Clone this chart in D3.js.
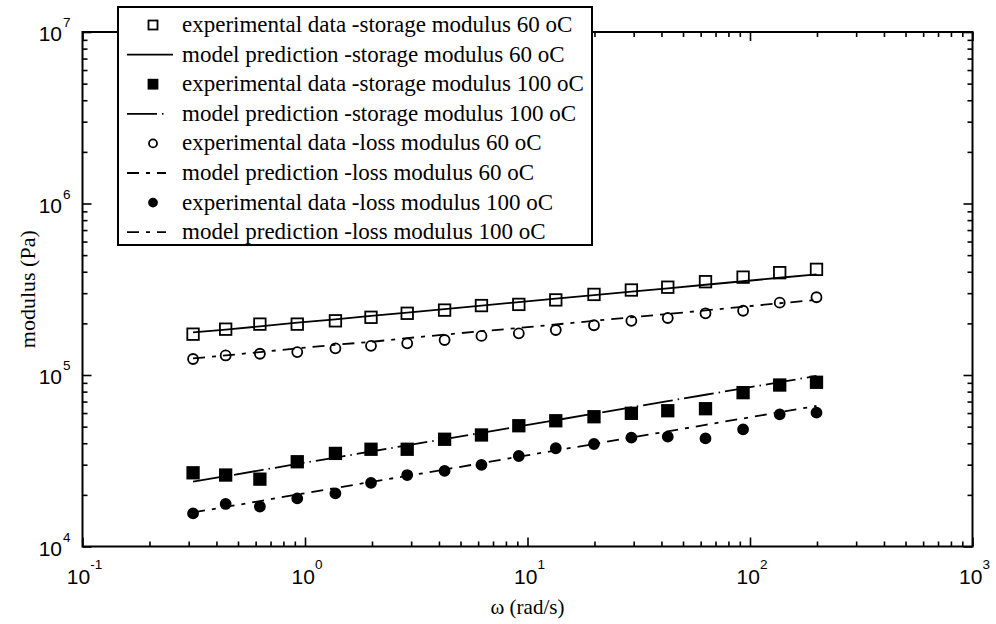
<!DOCTYPE html>
<html>
<head>
<meta charset="utf-8">
<script src="https://cdn.jsdelivr.net/npm/d3@7"></script>
<style>
  html, body { margin: 0; padding: 0; background: #fff; }
  svg { display: block; }
</style>
</head>
<body>
<svg id="chart" width="996" height="624"></svg>
<script>
// ---------------- data ----------------
const omega = [0.314, 0.44, 0.627, 0.923, 1.37, 1.98, 2.88, 4.24, 6.21, 9.14, 13.4, 19.9, 29.3, 42.7, 63.1, 93.1, 136, 199];

const expStorage60 = [1.73e5, 1.85e5, 1.98e5, 1.98e5, 2.07e5, 2.17e5, 2.29e5, 2.39e5, 2.54e5, 2.58e5, 2.74e5, 2.95e5, 3.13e5, 3.25e5, 3.50e5, 3.72e5, 3.95e5, 4.13e5];
const modelStorage60 = [1.77e5, 1.84e5, 1.92e5, 2.02e5, 2.11e5, 2.21e5, 2.31e5, 2.42e5, 2.54e5, 2.66e5, 2.79e5, 2.92e5, 3.06e5, 3.20e5, 3.36e5, 3.52e5, 3.69e5, 3.86e5];

const expStorage100 = [2.69e4, 2.61e4, 2.47e4, 3.12e4, 3.49e4, 3.69e4, 3.69e4, 4.22e4, 4.47e4, 5.06e4, 5.41e4, 5.71e4, 5.98e4, 6.19e4, 6.36e4, 7.89e4, 8.74e4, 9.07e4];
const modelStorage100 = [2.39e4, 2.57e4, 2.78e4, 3.03e4, 3.30e4, 3.58e4, 3.89e4, 4.23e4, 4.60e4, 5.01e4, 5.45e4, 5.95e4, 6.48e4, 7.04e4, 7.67e4, 8.35e4, 9.08e4, 9.87e4];

const expLoss60 = [1.24e5, 1.30e5, 1.33e5, 1.36e5, 1.43e5, 1.48e5, 1.53e5, 1.60e5, 1.69e5, 1.75e5, 1.83e5, 1.95e5, 2.07e5, 2.15e5, 2.29e5, 2.37e5, 2.64e5, 2.84e5];
const modelLoss60 = [1.25e5, 1.30e5, 1.36e5, 1.43e5, 1.50e5, 1.56e5, 1.64e5, 1.72e5, 1.80e5, 1.88e5, 1.97e5, 2.07e5, 2.17e5, 2.27e5, 2.38e5, 2.50e5, 2.62e5, 2.74e5];

const expLoss100 = [1.56e4, 1.77e4, 1.71e4, 1.91e4, 2.04e4, 2.35e4, 2.61e4, 2.76e4, 2.99e4, 3.37e4, 3.74e4, 3.96e4, 4.31e4, 4.37e4, 4.27e4, 4.82e4, 5.90e4, 6.03e4];
const modelLoss100 = [1.58e4, 1.70e4, 1.84e4, 2.01e4, 2.19e4, 2.38e4, 2.58e4, 2.81e4, 3.06e4, 3.34e4, 3.63e4, 3.96e4, 4.32e4, 4.69e4, 5.12e4, 5.58e4, 6.07e4, 6.60e4];

const xTickExps = [-1, 0, 1, 2, 3];
const yTickExps = [4, 5, 6, 7];

const legendLabels = [
  "experimental data -storage modulus 60 oC",
  "model prediction -storage modulus 60 oC",
  "experimental data -storage modulus 100 oC",
  "model prediction -storage modulus 100 oC",
  "experimental data -loss modulus 60 oC",
  "model prediction -loss modulus 60 oC",
  "experimental data -loss modulus 100 oC",
  "model prediction -loss modulus 100 oC"
];
const xTitle = "ω (rad/s)";
const yTitle = "modulus (Pa)";

// ---------------- layout ----------------
const L = 82.5, R = 972.5, T = 32, B = 546.5;
const svg = d3.select("#chart");
const x = d3.scaleLog().domain([0.1, 1000]).range([L, R]);
const y = d3.scaleLog().domain([1e4, 1e7]).range([B, T]);

const SANS = "'Liberation Sans', Arial, sans-serif";
const SERIF = "'Liberation Serif', 'Times New Roman', serif";

// minor tick values
function minors(lo, hi) {
  const out = [];
  for (let e = lo; e < hi; e++) for (let m = 2; m <= 9; m++) out.push(m * Math.pow(10, e));
  return out;
}
const xMajor = xTickExps.map(e => Math.pow(10, e));
const yMajor = yTickExps.map(e => Math.pow(10, e));
const xMinor = minors(-1, 3);
const yMinor = minors(4, 7);

function styleAxis(g) {
  g.select(".domain").remove();
  g.selectAll(".tick text").remove();
  g.selectAll(".tick line").attr("stroke", "#000").attr("stroke-width", 1.6);
}
const MAJ = 9, MIN = 5;
// bottom
svg.append("g").attr("transform", `translate(0,${B})`).call(d3.axisBottom(x).tickValues(xMajor).tickSize(-MAJ)).call(styleAxis);
svg.append("g").attr("transform", `translate(0,${B})`).call(d3.axisBottom(x).tickValues(xMinor).tickSize(-MIN)).call(styleAxis);
// top
svg.append("g").attr("transform", `translate(0,${T})`).call(d3.axisTop(x).tickValues(xMajor).tickSize(-MAJ)).call(styleAxis);
svg.append("g").attr("transform", `translate(0,${T})`).call(d3.axisTop(x).tickValues(xMinor).tickSize(-MIN)).call(styleAxis);
// left
svg.append("g").attr("transform", `translate(${L},0)`).call(d3.axisLeft(y).tickValues(yMajor).tickSize(-MAJ)).call(styleAxis);
svg.append("g").attr("transform", `translate(${L},0)`).call(d3.axisLeft(y).tickValues(yMinor).tickSize(-MIN)).call(styleAxis);
// right
svg.append("g").attr("transform", `translate(${R},0)`).call(d3.axisRight(y).tickValues(yMajor).tickSize(-MAJ)).call(styleAxis);
svg.append("g").attr("transform", `translate(${R},0)`).call(d3.axisRight(y).tickValues(yMinor).tickSize(-MIN)).call(styleAxis);

// frame
svg.append("rect").attr("x", L).attr("y", T).attr("width", R - L).attr("height", B - T)
  .attr("fill", "none").attr("stroke", "#000").attr("stroke-width", 2);

// tick labels
xTickExps.forEach(e => {
  const t = svg.append("text").attr("x", x(Math.pow(10, e)) + 2).attr("y", B + 37)
    .attr("text-anchor", "middle").attr("font-family", SANS).attr("font-size", 21).attr("fill", "#000");
  t.append("tspan").text("10");
  t.append("tspan").attr("font-size", 13.5).attr("dy", -15).text(e);
});
yTickExps.forEach(e => {
  const yy = y(Math.pow(10, e));
  svg.append("text").attr("x", 62).attr("y", yy + 9).attr("text-anchor", "end")
    .attr("font-family", SANS).attr("font-size", 21).attr("fill", "#000").text("10");
  svg.append("text").attr("x", 63).attr("y", yy - 5).attr("text-anchor", "start")
    .attr("font-family", SANS).attr("font-size", 13.5).attr("fill", "#000").text(e);
});

// axis titles
svg.append("text").attr("x", (L + R) / 2).attr("y", 614).attr("text-anchor", "middle")
  .attr("font-family", SERIF).attr("font-size", 21).attr("fill", "#000").text(xTitle);
svg.append("text").attr("transform", `translate(35,${(T + B) / 2}) rotate(-90)`).attr("text-anchor", "middle")
  .attr("font-family", SERIF).attr("font-size", 22).attr("fill", "#000").text(yTitle);

// ---------------- series ----------------
const DASH_S100 = "30,5,1.5,5";
const DASH_LOSS = "12,7,4,7";
const series = [
  { exp: expStorage60, model: modelStorage60, marker: "square", fill: "none", dash: null },
  { exp: expStorage100, model: modelStorage100, marker: "square", fill: "#000", dash: DASH_S100 },
  { exp: expLoss60, model: modelLoss60, marker: "circle", fill: "none", dash: DASH_LOSS },
  { exp: expLoss100, model: modelLoss100, marker: "circle", fill: "#000", dash: DASH_LOSS }
];

const line = d3.line().x(d => x(d[0])).y(d => y(d[1]));
series.forEach(s => {
  svg.append("path").datum(omega.map((w, i) => [w, s.model[i]]))
    .attr("d", line).attr("fill", "none").attr("stroke", "#000").attr("stroke-width", 1.8)
    .attr("stroke-dasharray", s.dash);
});

function drawMarker(g, type, cx, cy, fill, size) {
  if (type === "square") {
    g.append("rect").attr("x", cx - size / 2).attr("y", cy - size / 2).attr("width", size).attr("height", size)
      .attr("fill", fill === "none" ? "#fff" : fill).attr("fill-opacity", fill === "none" ? 0 : 1)
      .attr("stroke", "#000").attr("stroke-width", 1.8);
  } else {
    g.append("circle").attr("cx", cx).attr("cy", cy).attr("r", size / 2)
      .attr("fill", fill === "none" ? "#fff" : fill).attr("fill-opacity", fill === "none" ? 0 : 1)
      .attr("stroke", "#000").attr("stroke-width", 1.8);
  }
}
series.forEach(s => {
  const g = svg.append("g");
  omega.forEach((w, i) => drawMarker(g, s.marker, x(w), y(s.exp[i]), s.fill, s.marker === "square" ? 11.5 : 10));
});

// ---------------- legend ----------------
const LX = 118, LY = 7, LW = 474, LH = 238;
const leg = svg.append("g");
leg.append("rect").attr("x", LX).attr("y", LY).attr("width", LW).attr("height", LH)
  .attr("fill", "#fff").attr("stroke", "#000").attr("stroke-width", 2);
const rowH = 29.6, row0 = LY + 18;
legendLabels.forEach((lab, i) => {
  const cy = row0 + i * rowH;
  const s = series[Math.floor(i / 2)];
  if (i % 2 === 0) {
    drawMarker(leg, s.marker, 153, cy, s.fill, s.marker === "square" ? 9 : 8);
  } else {
    leg.append("line").attr("x1", 127).attr("x2", i === 1 ? 173 : 166).attr("y1", cy).attr("y2", cy)
      .attr("stroke", "#000").attr("stroke-width", 1.8).attr("stroke-dasharray", s.dash);
  }
  leg.append("text").attr("x", 182).attr("y", cy + 7).attr("font-family", SERIF).attr("font-size", 23)
    .attr("fill", "#000").text(lab);
});
</script>
</body>
</html>
